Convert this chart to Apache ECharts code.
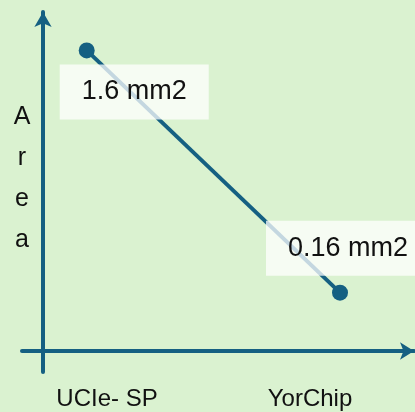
<!DOCTYPE html>
<html>
<head>
<meta charset="utf-8">
<script src="https://cdn.jsdelivr.net/npm/echarts@6/dist/echarts.min.js"></script>
<style>
  html, body { margin: 0; padding: 0; background: #daf2d0; }
  #chart { width: 415px; height: 412px; }
</style>
</head>
<body>
<div id="chart"></div>
<script>
// Area comparison: UCIe-SP vs YorChip
const categories = ["UCIe- SP", "YorChip"];
const areaValues = [1.6, 0.16];
const unit = "mm2";
const yTitle = "Area";

const BLUE = "#156082";
const FONT = "'Liberation Sans', Arial, sans-serif";
// label box offsets relative to each marker (layout only)
const LABEL_POS = [[-19, 22], [-66, -64]];

const ch = echarts.init(document.getElementById("chart"));

ch.setOption({
  backgroundColor: "#daf2d0",
  animation: false,
  grid: [
    // data grid
    { left: 86.7, right: 75, top: 10, bottom: 92.4, outerBoundsMode: "none" },
    // crossing axes with arrows
    { left: 22, right: 1, top: 12, bottom: 40, outerBoundsMode: "none" },
    // category labels
    { left: 5.5, right: 3.5, top: 300, bottom: 31, outerBoundsMode: "none" },
  ],
  xAxis: [
    { gridIndex: 0, type: "category", data: categories, boundaryGap: false, show: false },
    {
      gridIndex: 1, type: "value", min: -21, max: 371,
      axisLine: { show: true, onZero: true, symbol: ["none", "arrow"], symbolSize: [13, 14],
        lineStyle: { color: BLUE, width: 4 } },
      axisTick: { show: false }, axisLabel: { show: false }, splitLine: { show: false },
    },
    {
      gridIndex: 2, type: "category", data: categories, boundaryGap: true,
      axisLine: { show: false }, axisTick: { show: false },
      axisLabel: { color: "#111", fontSize: 24, lineHeight: 24, margin: 6, fontFamily: FONT },
    },
  ],
  yAxis: [
    { gridIndex: 0, type: "value", min: 0, max: 1.84, show: false },
    {
      gridIndex: 1, type: "value", min: -21, max: 339,
      axisLine: { show: true, onZero: true, symbol: ["none", "arrow"], symbolSize: [13, 15],
        lineStyle: { color: BLUE, width: 4 } },
      axisTick: { show: false }, axisLabel: { show: false }, splitLine: { show: false },
      // trailing spacer line lifts the stacked letters a bit
      name: yTitle.split("").join("\n") + "\n{s| }",
      nameLocation: "middle",
      nameRotate: 0,
      nameGap: 0,
      nameTextStyle: { color: "#111", fontSize: 25, lineHeight: 41, fontFamily: FONT,
        align: "center", verticalAlign: "middle",
        rich: { s: { fontSize: 10, lineHeight: 27 } } },
    },
    { gridIndex: 2, type: "value", show: false },
  ],
  series: [
    {
      type: "line",
      xAxisIndex: 0,
      yAxisIndex: 0,
      data: areaValues.map((v, i) => ({ value: v, label: { position: LABEL_POS[i] } })),
      symbol: "circle",
      symbolSize: 16,
      clip: false,
      lineStyle: { color: BLUE, width: 4 },
      itemStyle: { color: BLUE },
      label: {
        show: true,
        formatter: (p) => `${p.value} ${unit}`,
        color: "#111",
        fontSize: 27,
        lineHeight: 27,
        fontFamily: FONT,
        backgroundColor: "rgba(255,255,255,0.75)",
        padding: [14, 22, 14, 22],
      },
    },
  ],
});
</script>
</body>
</html>
